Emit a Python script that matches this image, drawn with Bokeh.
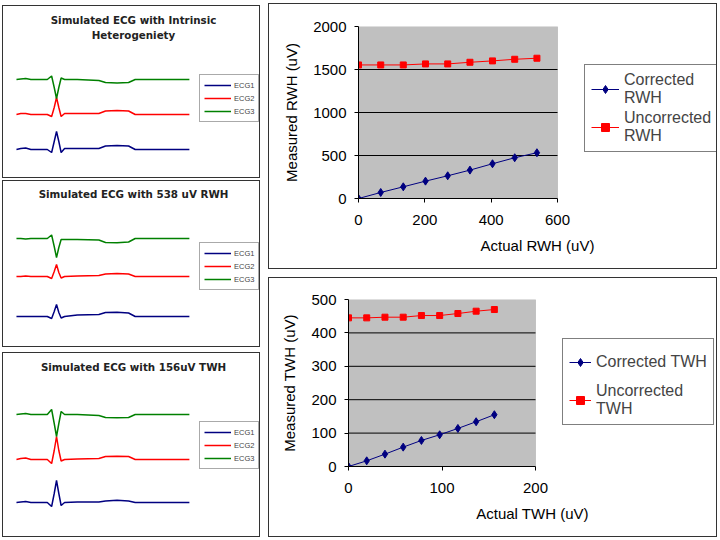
from bokeh.plotting import figure
from bokeh.layouts import row, column
from bokeh.models import Range1d, Legend, LegendItem, Label, Spacer, FixedTicker, BoxAnnotation
from bokeh.embed import file_html
from bokeh.resources import INLINE

# ---------------- ECG data (time in ms, amplitude in display units) ----------------
ecg_t = [0, 15, 32, 50, 107, 122, 131, 139, 147, 155, 167, 211, 286, 309, 349, 389, 412, 600]

ecg1_lead1 = [0, 1, 1.5, 0, 0, -3, 8, 18, 8, -3, 1, 1, 1, 3.5, 4, 3.5, 0, 0]
ecg1_lead2 = [0, 1, 1, 0, 0, -2, 7, 17, 7, -2, 1, 1, 1, 3.5, 4, 3.5, 0, 0]
ecg1_lead3 = [0, 0.5, 1, 0, 0, 3.5, -8, -19, -8, 1.5, 0, 0, -1, -3, -3.5, -3, 0, 0]
ecg1_offsets = [0, 35, 70]

ecg2_lead1 = [0, 0, 0, 0, 0, -2, 5, 12, 4, -1.5, 0, 1.5, 2, 4, 4.3, 3.5, 0, 0]
ecg2_lead2 = [0, 0, 0.5, 0, 0, -2, 5, 12, 4, -1.5, 0, 0.5, 1, 2.5, 3, 2.5, 0, 0]
ecg2_lead3 = [0, 0, -0.5, 0, 0, 3.5, -8, -19, -9, -1, -1, -1, -1.5, -4, -4.3, -3.5, 0, 0]
ecg2_offsets = [0, 40, 78]

ecg3_lead1 = [0, 0.5, 1, 0, 0, -4, 9, 22, 9, -3, 0, 0.5, 0.5, 1.5, 2.2, 1.5, 0, 0]
ecg3_lead2 = [0, 1, 1.5, 0, 0, -4, 9, 23, 9, -1.5, 0, 0.5, 1, 3, 3.3, 3, 0, 0]
ecg3_lead3 = [0, 0.5, 1, 0, 0, 5, -9, -22, -9, 3, 0, 0, -1, -3, -3.3, -3, 0, 0]
ecg3_offsets = [0, 43, 88]

lead_names = ["ECG1", "ECG2", "ECG3"]
lead_colors = ["#000080", "#ff0000", "#008000"]

# ---------------- RWH / TWH data ----------------
rwh_actual = [0, 67, 135, 202, 269, 336, 404, 471, 538]
rwh_corrected = [0, 70, 136, 202, 264, 330, 404, 474, 532]
rwh_uncorrected = [1553, 1553, 1553, 1565, 1565, 1584, 1600, 1619, 1631]
rwh_xticks = [0, 200, 400, 600]
rwh_yticks = [0, 500, 1000, 1500, 2000]

twh_actual = [0, 19.5, 39, 58.5, 78, 97.5, 117, 136.5, 156]
twh_corrected = [0, 17, 37, 58, 78, 95, 114, 134, 155]
twh_uncorrected = [445, 445, 447, 447, 452, 452, 458, 465, 470]
twh_xticks = [0, 100, 200]
twh_yticks = [0, 100, 200, 300, 400, 500]

BORDER = {"border": "1.5px solid #333333", "box-sizing": "border-box"}


def ecg_panel(w, h, titles, title_ys, leads, offsets, ystart, leg_loc):
    p = figure(width=w, height=h, output_backend="svg", toolbar_location=None,
               x_range=Range1d(-45, -45 + w * 3.47), y_range=Range1d(ystart, ystart + h),
               x_axis_type=None, y_axis_type=None, min_border=0,
               background_fill_color="white", border_fill_color="white",
               styles=BORDER)
    p.grid.visible = False
    p.outline_line_color = None
    items = []
    for name, color, lead, off in zip(lead_names, lead_colors, leads, offsets):
        ys = [v + off for v in lead]
        r = p.line(ecg_t, ys, line_color=color, line_width=1.5)
        items.append(LegendItem(label=name, renderers=[r]))
    for t, ty in zip(titles, title_ys):
        p.add_layout(Label(x=130, y=ty, x_units="screen", y_units="screen", text=t,
                           text_align="center", text_baseline="middle",
                           text_font="DejaVu Sans", text_font_style="bold",
                           text_font_size="10.3px", text_color="#222222"))
    leg = Legend(items=items, location=leg_loc, label_text_font="Liberation Sans",
                 label_text_font_size="7.5px", glyph_width=27, glyph_height=12,
                 label_height=12, spacing=1, padding=4, margin=0, label_standoff=3,
                 border_line_color="#555555", border_line_width=1,
                 background_fill_color="white", background_fill_alpha=1)
    p.add_layout(leg, "center")
    return p


e1 = ecg_panel(258, 173, ["Simulated ECG with Intrinsic", "Heterogeniety"], [160, 145],
               [ecg1_lead1, ecg1_lead2, ecg1_lead3], ecg1_offsets, -30, (196, 57))
e2 = ecg_panel(258, 167, ["Simulated ECG with 538 uV RWH"], [155],
               [ecg2_lead1, ecg2_lead2, ecg2_lead3], ecg2_offsets, -32, (196, 58))
e3 = ecg_panel(258, 185, ["Simulated ECG with 156uV TWH"], [172],
               [ecg3_lead1, ecg3_lead2, ecg3_lead3], ecg3_offsets, -36, (196, 69))


def scatter_panel(w, h, left, top, plot_w, plot_h, xt, yt, xs, yc, yu,
                  xlabel, ylabel, lab_c, lab_u, leg_loc, label_h, glyph_w, pad, spacing):
    right = 2
    frame_w = w - left - right
    xmax = xt[-1]
    ymax = yt[-1]
    p = figure(width=w, height=h, output_backend="svg", toolbar_location=None,
               x_range=Range1d(0, xmax * frame_w / plot_w), y_range=Range1d(0, ymax),
               min_border_left=left, min_border_right=right,
               min_border_top=top, min_border_bottom=h - top - plot_h,
               background_fill_color="white", border_fill_color="white",
               styles=BORDER)
    p.outline_line_color = None
    p.grid.visible = False
    # plot area (grey) limited to the data range
    p.add_layout(BoxAnnotation(left=0, right=xmax, bottom=0, top=ymax,
                               fill_color="#c0c0c0", fill_alpha=1,
                               line_color="#808080", line_width=1, level="underlay"))
    # horizontal gridlines at the inner y ticks
    inner = yt[1:-1]
    p.segment(x0=[0] * len(inner), x1=[xmax] * len(inner), y0=inner, y1=inner,
              line_color="black", line_width=1)
    p.xaxis.ticker = FixedTicker(ticks=xt)
    p.yaxis.ticker = FixedTicker(ticks=yt)
    p.xaxis.bounds = (0, xmax)
    for ax in (p.xaxis[0], p.yaxis[0]):
        ax.axis_line_color = "black"
        ax.axis_line_width = 1
        ax.major_tick_line_color = "black"
        ax.major_tick_out = 4
        ax.major_tick_in = 0
        ax.minor_tick_line_color = None
        ax.major_label_text_font = "Liberation Sans"
        ax.major_label_text_font_size = "15px"
        ax.major_label_text_color = "black"
        ax.axis_label_text_font = "Liberation Sans"
        ax.axis_label_text_font_size = "15px"
        ax.axis_label_text_font_style = "normal"
        ax.axis_label_text_color = "black"
    p.xaxis.axis_label = xlabel
    p.yaxis.axis_label = ylabel
    p.xaxis.major_label_standoff = 12
    p.yaxis.major_label_standoff = 8
    p.xaxis.axis_label_standoff = 9
    p.yaxis.axis_label_standoff = 10

    l1 = p.line(xs, yc, line_color="#000080", line_width=1)
    m1 = p.scatter(xs, yc, marker="diamond", size=8, fill_color="#000080",
                   line_color="#000080")
    l2 = p.line(xs, yu, line_color="#ff0000", line_width=1)
    m2 = p.scatter(xs, yu, marker="square", size=6, fill_color="#ff0000",
                   line_color="#ff0000")
    leg = Legend(items=[LegendItem(label=lab_c, renderers=[l1, m1]),
                        LegendItem(label=lab_u, renderers=[l2, m2])],
                 location=leg_loc, label_text_font="Liberation Sans",
                 label_text_font_size="16px", label_text_line_height=1.25,
                 glyph_width=glyph_w, glyph_height=20,
                 label_height=label_h, spacing=spacing, padding=pad, margin=0,
                 label_standoff=5,
                 border_line_color="black", border_line_width=1,
                 background_fill_color="white", background_fill_alpha=1)
    p.add_layout(leg, "center")
    return p


s1 = scatter_panel(449, 266, 89, 22, 199, 172, rwh_xticks, rwh_yticks,
                   rwh_actual, rwh_corrected, rwh_uncorrected,
                   "Actual RWH (uV)", "Measured RWH (uV)",
                   "Corrected\nRWH", "Uncorrected\nRWH", (226, 46), 20, 28, 6, 2)
s2 = scatter_panel(449, 260, 79, 21, 187, 167, twh_xticks, twh_yticks,
                   twh_actual, twh_corrected, twh_uncorrected,
                   "Actual TWH (uV)", "Measured TWH (uV)",
                   "Corrected TWH", "Uncorrected\nTWH", (214, 41), 34, 22, 6, 3)

left_col = column(Spacer(width=258, height=5), e1, Spacer(width=258, height=2), e2,
                  Spacer(width=258, height=5), e3)
right_col = column(Spacer(width=449, height=3), row(s1), Spacer(width=449, height=8), row(s2))
layout = row(Spacer(width=2, height=10), left_col, Spacer(width=8, height=10), right_col)

open("out.html", "w").write(file_html(layout, INLINE))
